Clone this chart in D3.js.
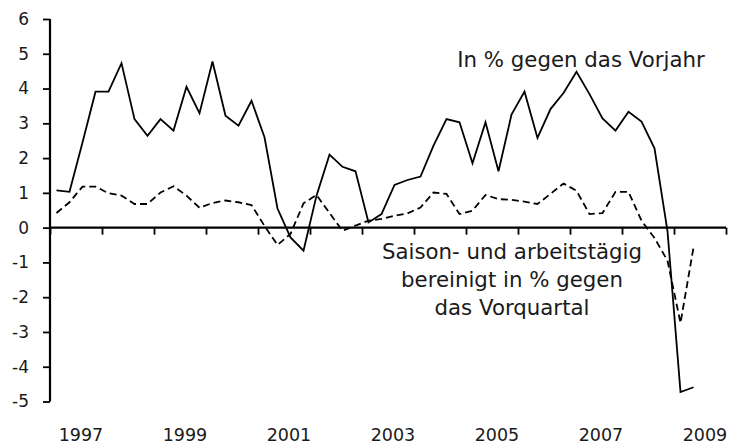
<!DOCTYPE html>
<html>
<head>
<meta charset="utf-8">
<script src="https://cdn.jsdelivr.net/npm/d3@7"></script>
<style>
  html, body { margin: 0; padding: 0; background: #fff; }
  svg { display: block; }
  text { font-family: "DejaVu Sans", sans-serif; fill: #1a1a1a; }
</style>
</head>
<body>
<svg id="chart" width="733" height="444"></svg>
<script>
// Quarters 1997Q1 .. 2009Q2
const years = d3.range(1997, 2010);
const quarters = [];
years.forEach(yr => [1, 2, 3, 4].forEach(q => quarters.push(yr + "Q" + q)));
const categories = quarters.slice(0, 50);

// In % gegen das Vorjahr
const yoy = [1.07, 1.03, 2.45, 3.91, 3.91, 4.73, 3.12, 2.64, 3.12, 2.79,
             4.05, 3.29, 4.78, 3.22, 2.93, 3.65, 2.60, 0.55, -0.28, -0.66,
             0.92, 2.10, 1.75, 1.62, 0.15, 0.39, 1.23, 1.37, 1.47, 2.36,
             3.12, 3.03, 1.85, 3.03, 1.62, 3.25, 3.91, 2.58, 3.41, 3.87,
             4.48, 3.84, 3.14, 2.79, 3.33, 3.05, 2.28, -0.10, -4.73, -4.59];

// Saison- und arbeitstägig bereinigt in % gegen das Vorquartal
const qoq = [0.42, 0.73, 1.18, 1.18, 0.99, 0.92, 0.68, 0.68, 1.01, 1.19,
             0.92, 0.57, 0.71, 0.78, 0.73, 0.65, 0.05, -0.50, -0.18, 0.70,
             0.94, 0.42, -0.09, 0.06, 0.20, 0.25, 0.34, 0.41, 0.58, 1.01,
             0.97, 0.39, 0.49, 0.94, 0.82, 0.80, 0.75, 0.68, 0.97, 1.27,
             1.06, 0.39, 0.42, 1.03, 1.03, 0.20, -0.30, -0.95, -2.74, -0.57];

const yTicks = [-5, -4, -3, -2, -1, 0, 1, 2, 3, 4, 5, 6];
const xLabelYears = [1997, 1999, 2001, 2003, 2005, 2007, 2009];

const labelYoy = "In % gegen das Vorjahr";
const labelQoq = ["Saison- und arbeitstägig", "bereinigt in % gegen", "das Vorquartal"];

const svg = d3.select("#chart");
const mLeft = 50, mRight = 726, mTop = 19, mBottom = 401.5;

// x: quarter index, each point at center of its quarter
const x = d3.scaleLinear().domain([-0.5, years.length * 4 - 0.5]).range([mLeft, mRight]);
const y = d3.scaleLinear().domain([-5, 6]).range([mBottom, mTop]);

// Y axis
const yAxis = d3.axisLeft(y).tickValues(yTicks).tickSize(7).tickPadding(14).tickFormat(d => String(d));
const gy = svg.append("g").attr("transform", `translate(${mLeft},0)`).call(yAxis);
gy.select(".domain").attr("stroke", "#000").attr("stroke-width", 2.2).attr("d", `M0,${mTop}H0V${mBottom}`);
gy.selectAll(".tick line").attr("stroke", "#000").attr("stroke-width", 1.8);
gy.selectAll(".tick text").style("font-size", "17px").style("font-family", '"DejaVu Sans", sans-serif').attr("fill", "#1a1a1a");

// X axis along zero line with year-boundary ticks
const yearBoundaries = d3.range(0, years.length + 1).map(k => k * 4 - 0.5);
const xAxis = d3.axisBottom(x).tickValues(yearBoundaries).tickSize(7).tickFormat("");
const gx = svg.append("g").attr("transform", `translate(0,${y(0)})`).call(xAxis);
gx.select(".domain").attr("stroke", "#000").attr("stroke-width", 2.2).attr("d", `M${mLeft},0H${mRight}`);
gx.selectAll(".tick line").attr("stroke", "#000").attr("stroke-width", 1.8);

// Year labels at bottom, centered in the year interval
svg.append("g").selectAll("text").data(xLabelYears).join("text")
  .attr("x", d => x((d - 1997) * 4 + 1.5))
  .attr("dx", 5)
  .attr("y", 441)
  .attr("text-anchor", "middle")
  .style("font-size", "17.5px")
  .text(d => d);

// Lines
const line = d3.line().x((d, i) => x(i)).y(d => y(d));
svg.append("path").datum(yoy).attr("d", line)
  .attr("fill", "none").attr("stroke", "#000").attr("stroke-width", 1.8).attr("stroke-linejoin", "miter");
svg.append("path").datum(qoq).attr("d", line)
  .attr("fill", "none").attr("stroke", "#000").attr("stroke-width", 1.8)
  .attr("stroke-dasharray", "7,4");

// Annotations
svg.append("text").attr("x", 581).attr("y", 67).attr("text-anchor", "middle")
  .style("font-size", "21.3px").text(labelYoy);
svg.append("g").selectAll("text").data(labelQoq).join("text")
  .attr("x", 512).attr("y", (d, i) => 259 + i * 28).attr("text-anchor", "middle")
  .style("font-size", "21.3px").text(d => d);
</script>
</body>
</html>
